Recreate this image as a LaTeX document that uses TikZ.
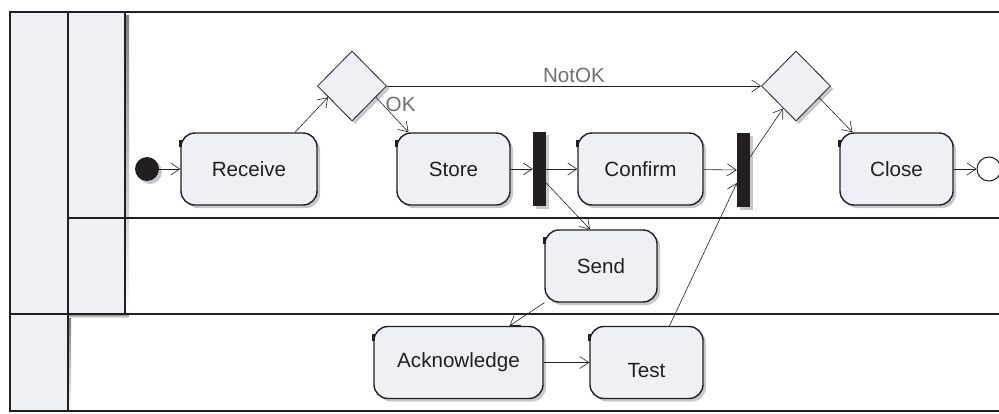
\documentclass[tikz,border=0pt]{standalone}
\usepackage{fontspec}
\setmainfont{Liberation Sans}
\usetikzlibrary{shapes.geometric,arrows.meta,shadows}
\definecolor{ink}{HTML}{231F20}
\definecolor{lanefill}{HTML}{EEF0F5}
\definecolor{shade}{HTML}{C6C8CE}
\definecolor{lblc}{HTML}{6F7072}
\begin{document}
\begin{tikzpicture}[x=1pt,y=-1pt,
  font=\fontsize{20.6}{24}\selectfont,
  sh/.style={drop shadow={shadow xshift=3pt,shadow yshift=-3pt,fill=shade,opacity=1}},
  act/.style={draw=ink,line width=1.4pt,fill=lanefill,rounded corners=14pt,
    minimum width=#1,minimum height=72pt,inner sep=0pt,text=ink,sh},
  dec/.style={diamond,draw=ink,line width=0.8pt,fill=lanefill,
    minimum width=69pt,minimum height=70pt,inner sep=0pt,sh},
  bar/.style={rectangle,fill=ink,draw=none,minimum width=13pt,minimum height=74pt,inner sep=0pt,sh},
  flow/.style={draw=ink,line width=0.6pt,-{Straight Barb[length=9pt,width=12pt]}},
  lane/.style={draw=ink,line width=1.6pt},
  tick/.style={draw=ink,line width=2.4pt},
  lbl/.style={text=lblc}]
\useasboundingbox (0,0) rectangle (999,413);
% lane headers
\fill[shade] (125,15) rectangle (129,317);
\fill[shade] (10,314) rectangle (129,318);
\fill[shade] (68,318) rectangle (71,411);
\fill[lanefill] (10,12) rectangle (125,314);
\fill[lanefill] (10,314) rectangle (68,411);
\draw[lane] (999,12) -- (10,12) -- (10,411) -- (999,411);
\draw[lane] (68,12) -- (68,411);
\draw[lane] (125,12) -- (125,314);
\draw[lane] (68,218) -- (999,218);
\draw[lane] (10,314) -- (999,314);
% nodes
\node[circle,fill=ink,minimum size=24pt,inner sep=0pt,sh] (init) at (147,169) {};
\node[act=136pt] (rec) at (249,169) {Receive};
\node[dec] (d1) at (352,86) {};
\node[act=113pt] (store) at (453.5,169) {Store};
\node[bar] (bar1) at (539.5,169) {};
\node[act=125pt] (conf) at (640.5,169) {Confirm};
\node[bar] (bar2) at (743.5,170) {};
\node[dec] (d2) at (796,86) {};
\node[act=113pt] (close) at (896.5,169) {Close};
\node[circle,draw=ink,line width=1pt,fill=white,minimum size=24pt,inner sep=0pt] (fin) at (989,169) {};
\node[act=112pt] (send) at (601,266) {Send};
\node[act=169pt] (ack) at (458.5,362.5) {Acknowledge};
\node[act=113pt] (test) at (646.5,362.5) {\raisebox{-15pt}[0pt][0pt]{Test}};
\foreach \n in {rec,store,conf,close,send,ack,test}
  \draw[tick] ([yshift=-8pt]\n.north west) -- ([yshift=-15pt]\n.north west);
% flows
\draw[flow] (init) -- (rec);
\draw[flow] ([xshift=46pt]rec.north) -- (d1.205);
\draw[flow] (d1.335) -- node[lbl,pos=0.2,anchor=west,inner sep=2pt,xshift=1pt] {OK} ([xshift=-45pt]store.north);
\draw[flow] (d1.east) -- node[lbl,above=0pt] {NotOK} (d2.west);
\draw[flow] (store) -- (bar1);
\draw[flow] (bar1) -- (conf);
\draw[flow] ([yshift=-14pt]bar1.east) -- ([xshift=-11pt]send.north);
\draw[flow] (conf) -- (bar2);
\draw[flow] ([xshift=23pt]test.north) -- ([yshift=-13pt]bar2.west);
\draw[flow] ([yshift=13pt]bar2.east) -- (d2.240);
\draw[flow] (d2.333) -- ([xshift=-44pt]close.north);
\draw[flow] (close) -- (fin);
\draw[flow] (send.south west) -- ([xshift=51pt]ack.north);
\draw[flow] (ack) -- (test);
\end{tikzpicture}
\end{document}
